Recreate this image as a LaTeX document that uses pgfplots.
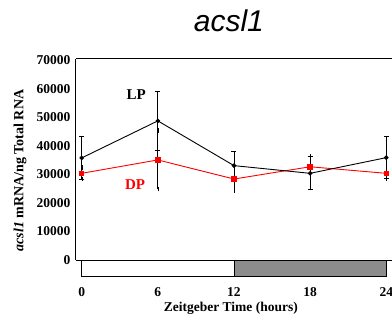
\documentclass[border=0pt]{standalone}
\usepackage{pgfplots}
\pgfplotsset{compat=1.18}
\usepackage{fontspec}
\setmainfont{Liberation Serif}
\newfontfamily\titlefont{Liberation Sans}

\begin{document}
\begin{tikzpicture}
\begin{axis}[
  at={(0pt,0pt)}, anchor=south west,
  scale only axis,
  width=316pt, height=201pt,
  xmin=-0.45, xmax=24.45,
  ymin=0, ymax=70500,
  axis lines*=left,
  axis line style={line width=1pt},
  clip=false,
  xtick={0,6,12,18,24},
  ytick={0,10000,20000,30000,40000,50000,60000,70000},
  major tick length=0pt,
  scaled y ticks=false,
  /pgf/number format/assume math mode=true,
  yticklabel={\pgfmathprintnumber[fixed,1000 sep={}]{\tick}},
  tick label style={font=\fontsize{13.5}{15}\selectfont\bfseries},
  x tick label style={anchor=center, yshift=-32pt},
  y tick label style={xshift=-2pt},
  xlabel={Zeitgeber Time (hours)},
  xlabel style={font=\fontsize{13.5}{15}\selectfont\bfseries, at={(axis description cs:0.49,0)}, anchor=center, yshift=-48pt},
  ylabel={\textit{acsl1} mRNA/ng Total RNA},
  ylabel style={font=\fontsize{14}{15}\selectfont\bfseries, at={(axis description cs:-0.177,0.445)}, anchor=center, rotate=0},
  error bars/error bar style={line width=0.8pt},
  error bars/error mark options={rotate=90, mark size=2.5pt, line width=0.8pt},
]
% light/dark bar under the time axis
\addplot[draw=black, line width=0.8pt, fill=white] coordinates {(0,0) (0,-5600) (12,-5600) (12,0)} -- cycle;
\addplot[draw=black, line width=0.8pt, fill=black!45] coordinates {(12,0) (12,-5600) (24,-5600) (24,0)} -- cycle;
% DP (red)
\addplot[red, line width=0.9pt, mark=square*, mark size=2.2pt,
  error bars/.cd, y dir=both, y explicit,
  error bar style={black}, error mark options={black}]
  coordinates {
  (0,30400) +- (0,2000)
  (6,35100) +- (0,10300)
  (12,28400) +- (0,4000)
  (18,32700) +- (0,3600)
  (24,30400) +- (0,2000)
};
% LP (black)
\addplot[black, line width=0.9pt, mark=*, mark size=1.8pt,
  error bars/.cd, y dir=both, y explicit]
  coordinates {
  (0,35800) +- (0,7500)
  (6,48800) +- (0,10300)
  (12,33100) +- (0,5000)
  (18,30400) +- (0,5800)
  (24,35900) +- (0,7400)
};
\node[font=\fontsize{15}{17}\selectfont\bfseries] at (axis cs:4.3,57900) {LP};
\node[font=\fontsize{15}{17}\selectfont\bfseries, text=red] at (axis cs:4.2,26300) {DP};
\draw[line width=1pt] (rel axis cs:0,1) -- (rel axis cs:1,1);
\node[font=\titlefont\itshape\fontsize{30}{34}\selectfont] at (axis cs:11.6,83800) {acsl1};
\end{axis}
\pgfresetboundingbox
\useasboundingbox (-76pt,-62pt) rectangle (316pt,260pt);
\end{tikzpicture}
\end{document}
